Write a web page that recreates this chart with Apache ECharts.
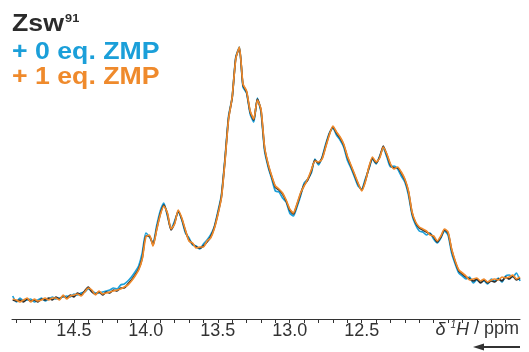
<!DOCTYPE html>
<html>
<head>
<meta charset="utf-8">
<script src="https://cdn.jsdelivr.net/npm/echarts@6/dist/echarts.min.js"></script>
<style>html,body{margin:0;padding:0;background:#fff;}#c{width:529px;height:352px;}</style>
</head>
<body>
<div id="c"></div>
<script>
const ppm = [
14.925,14.900,14.875,14.850,14.825,14.800,14.775,14.750,14.725,14.700,
14.675,14.650,14.625,14.600,14.575,14.550,14.525,14.500,14.475,14.450,
14.425,14.400,14.375,14.350,14.325,14.300,14.275,14.250,14.225,14.200,
14.175,14.150,14.125,14.100,14.075,14.050,14.025,14.000,13.975,13.950,
13.925,13.900,13.875,13.850,13.825,13.800,13.775,13.750,13.725,13.700,
13.675,13.650,13.625,13.600,13.575,13.550,13.525,13.500,13.475,13.450,
13.425,13.400,13.375,13.350,13.325,13.300,13.275,13.250,13.225,13.200,
13.175,13.150,13.125,13.100,13.075,13.050,13.025,13.000,12.975,12.950,
12.925,12.900,12.875,12.850,12.825,12.800,12.775,12.750,12.725,12.700,
12.675,12.650,12.625,12.600,12.575,12.550,12.525,12.500,12.475,12.450,
12.425,12.400,12.375,12.350,12.325,12.300,12.275,12.250,12.225,12.200,
12.175,12.150,12.125,12.100,12.075,12.050,12.025,12.000,11.975,11.950,
11.925,11.900,11.875,11.850,11.825,11.800,11.775,11.750,11.725,11.700,
11.675,11.650,11.625,11.600,11.575,11.550,11.525,11.500,11.475,11.450,
11.425,11.400];

const zswOnly = [
19,18,19,17,20,18,19,17,20,19,
21,19,22,20,23,21,24,22,26,24,
28,32,27,25,27,24,27,26,29,28,
31,31,35,39,44,50,61,83,83,74,
90,105,114,105,89,96,108,100,88,79,
75,72,71,73,77,82,91,105,122,159,
201,221,261,271,234,227,207,199,220,209,
171,154,142,132,129,125,118,109,105,114,
125,134,139,148,159,156,161,173,185,192,
186,181,174,162,153,144,135,129,138,151,
161,156,162,173,164,154,151,151,146,139,
127,106,96,91,89,87,85,82,77,82,
89,86,69,57,48,45,42,40,38,40,
36,39,36,38,37,40,38,42,40,43,
39,41];

const zmp0 = [
23,17,21,18,19,20,17,19,21,18,
20,22,20,21,22,23,22,25,24,26,
27,30,28,26,26,27,28,29,31,30,
34,35,38,42,47,53,66,86,82,76,
93,108,116,103,90,98,107,99,86,81,
74,73,70,75,79,84,92,107,124,161,
203,222,262,272,232,226,205,197,221,207,
168,152,140,128,127,121,117,106,103,112,
123,136,140,146,160,154,162,175,186,191,
184,179,172,159,151,142,133,130,140,150,
160,155,163,171,162,152,153,150,143,137,
124,104,94,88,87,84,86,80,76,81,
88,84,66,55,46,43,40,42,36,39,
37,38,35,40,38,41,37,43,44,42,
46,38];

const zmp1 = [
20,19,17,19,21,17,20,18,19,21,
19,21,21,19,24,20,23,24,25,23,
27,31,29,24,28,25,26,27,28,29,
30,32,34,38,43,49,60,82,84,73,
89,104,113,106,90,95,109,101,89,78,
76,71,72,72,78,81,90,104,121,158,
200,222,260,272,235,228,208,200,219,210,
172,155,143,133,130,126,119,110,106,115,
126,133,140,149,158,157,160,172,184,193,
187,182,175,163,154,145,136,128,137,152,
162,157,161,172,165,155,150,152,147,140,
128,107,97,92,90,88,84,83,78,83,
90,87,70,58,49,46,43,39,40,41,
38,40,37,39,40,39,42,41,42,44,
40,42];

const tickLabels = ['14.5','14.0','13.5','13.0','12.5'];

const pair = (ys) => ppm.map((x, i) => [x, ys[i]]);

const chart = echarts.init(document.getElementById('c'), null, {renderer: 'canvas'});
const lineStyle = (c) => ({color: c, width: 1.7});
chart.setOption({
  animation: false,
  backgroundColor: '#fff',
  grid: {left: 12, right: 9, top: 30, bottom: 33},
  xAxis: {
    type: 'value', inverse: true, min: 11.4, max: 14.93, interval: 0.1,
    axisLine: {show: true, lineStyle: {color: '#333', width: 1}},
    axisTick: {show: true, length: 4, lineStyle: {color: '#333'}},
    splitLine: {show: false},
    axisLabel: {
      margin: 3, color: '#333', fontSize: 18, fontFamily: 'Liberation Sans',
      showMinLabel: false, showMaxLabel: false,
      formatter: (v) => { const s = (Math.round(v * 10) / 10).toFixed(1); return tickLabels.indexOf(s) >= 0 ? s : ''; }
    }
  },
  yAxis: {type: 'value', min: 0, max: 289, show: false},
  series: [
    {name: '+ 0 eq. ZMP', type: 'line', data: pair(zmp0), showSymbol: false, smooth: 0.2, lineStyle: lineStyle('#1b9fd9'), z: 2},
    {name: 'Zsw91', type: 'line', data: pair(zswOnly), showSymbol: false, smooth: 0.2, lineStyle: lineStyle('#2a2a2a'), z: 3},
    {name: '+ 1 eq. ZMP', type: 'line', data: pair(zmp1), showSymbol: false, smooth: 0.2, lineStyle: lineStyle('#ef8a2c'), z: 4}
  ],
  graphic: [
    {type: 'text', left: 12, top: 13, scaleX: 1.16, style: {
      text: '{a|Zsw}{b|91}',
      rich: {
        a: {fontSize: 23, fontWeight: 'bold', fontFamily: 'Liberation Sans', fill: '#2b2b2b'},
        b: {fontSize: 11, fontWeight: 'bold', fontFamily: 'Liberation Sans', fill: '#2b2b2b', verticalAlign: 'top', padding: [0,0,12,1]}
      }
    }},
    {type: 'text', left: 12, top: 41, scaleX: 1.16, style: {text: '+ 0 eq. ZMP', font: 'bold 23px "Liberation Sans"', fill: '#1b9fd9'}},
    {type: 'text', left: 12, top: 66, scaleX: 1.16, style: {text: '+ 1 eq. ZMP', font: 'bold 23px "Liberation Sans"', fill: '#ef8a2c'}},
    {type: 'text', right: 10, top: 320, style: {
      text: '{i|δ }{s|1}{i|H}{n| / ppm}',
      rich: {
        i: {fontSize: 18, fontStyle: 'italic', fontFamily: 'Liberation Sans', fill: '#333'},
        s: {fontSize: 10, fontStyle: 'italic', fontFamily: 'Liberation Sans', fill: '#333', verticalAlign: 'top', padding: [0,0,9,0]},
        n: {fontSize: 18, fontFamily: 'Liberation Sans', fill: '#333'}
      }
    }},
    {type: 'line', shape: {x1: 482, y1: 347, x2: 520, y2: 347}, style: {stroke: '#333', lineWidth: 2}},
    {type: 'polygon', shape: {points: [[473, 347], [484, 343.5], [484, 350.5]]}, style: {fill: '#333'}}
  ]
});
</script>
</body>
</html>
